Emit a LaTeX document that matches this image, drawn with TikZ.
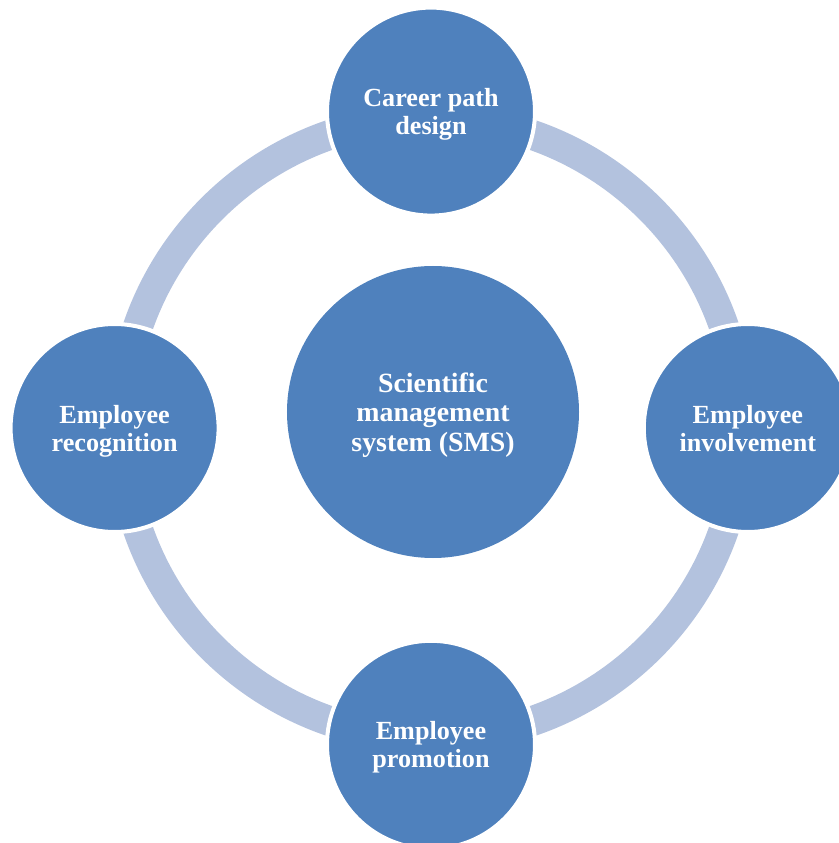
\documentclass[tikz,border=0pt]{standalone}
\usepackage{fontspec}
\setmainfont{Liberation Serif}
\usepackage{tikz}
\usepackage{color}
\definecolor{circleblue}{RGB}{79,129,189}
\definecolor{ringblue}{RGB}{179,194,222}

\begin{document}
\begin{tikzpicture}[
            ring/.style={ringblue, line width=0.75cm},
            item/.style={circle, fill=circleblue, draw=white, line width=0.1cm, minimum size=5.2cm, inner sep=0pt, text depth=0pt, align=center, text=white, font=\fontsize{18.6}{20}\selectfont\bfseries},
            hub/.style={circle, fill=circleblue, minimum size=7.3cm, inner sep=0pt, text depth=0pt, align=center, text=white, font=\fontsize{19.8}{21}\selectfont\bfseries}]
            \useasboundingbox (-10.775, -10.375) rectangle (10.175, 10.7);
            \draw[ring] (0, 0) circle (7.75);
            \node[hub] (sms) at (0.05, 0.4) {Scientific\\management\\system (SMS)};
            \node[item] (career) at (0, 7.91) {Career path\\design};
            \node[item] (involvement) at (7.92, 0) {Employee\\involvement};
            \node[item] (promotion) at (0, -7.92) {Employee\\promotion};
            \node[item] (recognition) at (-7.91, 0) {Employee\\recognition};
        \end{tikzpicture}
\end{document}
